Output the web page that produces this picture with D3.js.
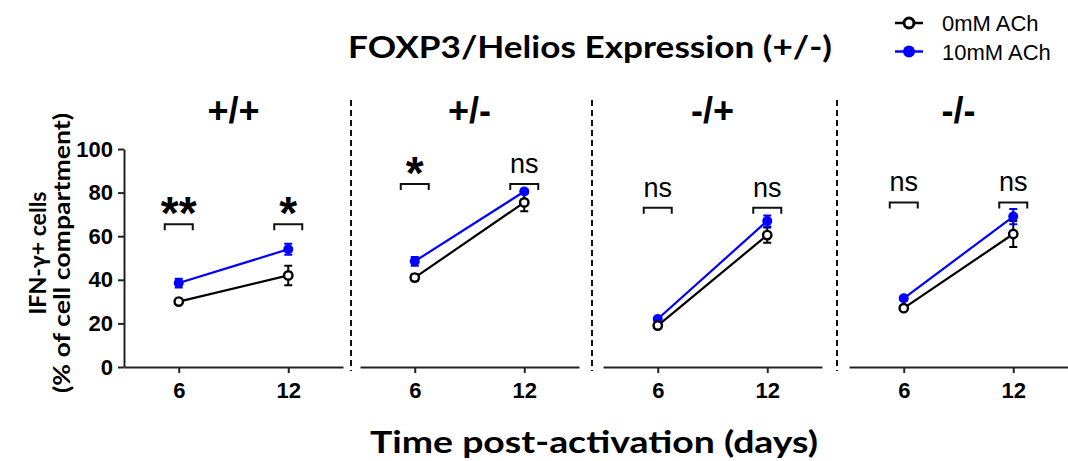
<!DOCTYPE html>
<html><head><meta charset="utf-8">
<script src="https://cdn.jsdelivr.net/npm/d3@7"></script>
<style>body{margin:0;background:#fff}</style>
</head><body><div id="graph"></div>
<script>
// values (% IFN-g+ cells)
var groups = ["+/+", "+/-", "-/+", "-/-"];
var days = [6, 12];
var ctrlMean = [[30, 42], [41, 75.5], [19, 60.5], [27, 61]];
var ctrlErr  = [[1, 4.5], [1.5, 4], [1, 3.5], [1, 6]];
var achMean  = [[38.5, 54], [48.5, 80.5], [22, 67], [31.5, 69]];
var achErr   = [[2, 2.5], [2, 1], [1, 2.5], [1, 3.5]];
var sigLabels = [["**", "*"], ["*", "ns"], ["ns", "ns"], ["ns", "ns"]];
var sigLevel = [65.5, 84, 73, 75.5];
var yTicks = [0, 20, 40, 60, 80, 100];
var seriesNames = ["0mM ACh", "10mM ACh"];

var width = 1068, height = 461;
var panelLeft = [124, 360, 603, 849], panelW = 219;
var dividers = [351, 592, 837];
var blue = "#0000ff", ink = "#111";
var sans = "Liberation Sans, Arial, sans-serif";
var calib = "Lato, 'Open Sans', sans-serif";

function font(sel, fam, size, weight) {
    return sel.attr("font-family", fam).attr("font-size", size).attr("font-weight", weight || "normal");
}

var svg = d3.select("#graph").append("svg")
    .attr("width", width).attr("height", height);

var y = d3.scaleLinear().domain([0, 100]).range([367, 149]);
var x = d3.scaleLinear().domain([3, 15]).range([0, panelW]);

// titles
font(svg.append("text"), calib, 30, "bold")
    .attr("x", 590).attr("y", 58)
    .attr("text-anchor", "middle")
    .attr("textLength", 484).attr("lengthAdjust", "spacingAndGlyphs")
    .text("FOXP3/Helios Expression (+/-)");

font(svg.append("text"), calib, 31, "bold")
    .attr("x", 594).attr("y", 453)
    .attr("text-anchor", "middle")
    .attr("textLength", 448).attr("lengthAdjust", "spacingAndGlyphs")
    .text("Time post-activation (days)");

font(svg.append("text"), calib, 23, "bold")
    .attr("transform", "translate(46,253) rotate(-90)")
    .attr("text-anchor", "middle")
    .attr("textLength", 123).attr("lengthAdjust", "spacingAndGlyphs")
    .text("IFN-\u03b3+ cells");
font(svg.append("text"), calib, 23, "bold")
    .attr("transform", "translate(70,253) rotate(-90)")
    .attr("text-anchor", "middle")
    .attr("textLength", 280).attr("lengthAdjust", "spacingAndGlyphs")
    .text("(% of cell compartment)");

// y axis (first panel only)
var yAxis = svg.append("g")
    .attr("transform", "translate(" + panelLeft[0] + ",0)")
    .call(d3.axisLeft(y).tickValues(yTicks).tickSize(6).tickSizeOuter(0).tickPadding(5));
font(yAxis, sans, 22, "bold");
yAxis.selectAll("path,line").attr("stroke", "#222").attr("stroke-width", 2);
yAxis.selectAll("text").attr("fill", "#000");

// dashed separators
svg.selectAll(".sep").data(dividers).enter().append("line")
    .attr("class", "sep")
    .attr("x1", function(d){ return d; }).attr("x2", function(d){ return d; })
    .attr("y1", 100).attr("y2", 371)
    .attr("stroke", ink).attr("stroke-width", 2)
    .attr("stroke-dasharray", "6,4");

groups.forEach(function(name, i) {
    var g = svg.append("g").attr("transform", "translate(" + panelLeft[i] + ",0)");

    var xAxis = g.append("g")
        .attr("transform", "translate(0," + y(0) + ")")
        .call(d3.axisBottom(x).tickValues(days).tickSize(6).tickSizeOuter(0).tickPadding(9));
    font(xAxis, sans, 22, "bold");
    xAxis.selectAll("path,line").attr("stroke", "#222").attr("stroke-width", 2);
    xAxis.selectAll("text").attr("fill", "#000");

    font(g.append("text"), sans, 36, "bold")
        .attr("x", x(9)).attr("y", 123)
        .attr("text-anchor", "middle")
        .text(name);

    var line = d3.line().x(function(d, k){ return x(days[k]); }).y(function(d){ return y(d); });

    function drawSeries(mean, err, color) {
        g.append("path").datum(mean)
            .attr("d", line).attr("fill", "none")
            .attr("stroke", color).attr("stroke-width", 2.2);
        mean.forEach(function(m, k) {
            var cx = x(days[k]);
            g.append("path")
                .attr("d", "M" + (cx - 4) + "," + y(m + err[k]) + "H" + (cx + 4) +
                    "M" + cx + "," + y(m + err[k]) + "V" + y(m - err[k]) +
                    "M" + (cx - 4) + "," + y(m - err[k]) + "H" + (cx + 4))
                .attr("stroke", color).attr("stroke-width", 2).attr("fill", "none");
        });
    }
    drawSeries(ctrlMean[i], ctrlErr[i], "#000");
    drawSeries(achMean[i], achErr[i], blue);

    g.selectAll(".ach").data(achMean[i]).enter().append("circle")
        .attr("cx", function(d, k){ return x(days[k]); })
        .attr("cy", function(d){ return y(d); })
        .attr("r", 5).attr("fill", blue);
    g.selectAll(".ctrl").data(ctrlMean[i]).enter().append("circle")
        .attr("cx", function(d, k){ return x(days[k]); })
        .attr("cy", function(d){ return y(d); })
        .attr("r", 4.2).attr("fill", "#fff")
        .attr("stroke", "#000").attr("stroke-width", 2.4);

    // significance brackets
    sigLabels[i].forEach(function(lab, k) {
        var cx = x(days[k]), yb = y(sigLevel[i]);
        g.append("path")
            .attr("d", "M" + (cx - 14) + "," + (yb + 6) + "V" + yb + "H" + (cx + 14) + "V" + (yb + 6))
            .attr("fill", "none").attr("stroke", ink).attr("stroke-width", 2);
        var t = g.append("text").attr("x", cx).attr("text-anchor", "middle").text(lab);
        if (lab === "ns") {
            font(t, sans, 27).attr("y", yb - 11);
        } else {
            font(t, sans, 46, "bold").attr("y", yb + 5);
        }
    });
});

// legend
var legend = svg.append("g").attr("transform", "translate(909,0)");
var legY = [23, 51.5];
seriesNames.forEach(function(s, k) {
    var c = k === 0 ? "#000" : blue;
    legend.append("line")
        .attr("x1", -14).attr("x2", 14).attr("y1", legY[k]).attr("y2", legY[k])
        .attr("stroke", c).attr("stroke-width", 2.5);
    legend.append("circle")
        .attr("cx", 0).attr("cy", legY[k])
        .attr("r", k === 0 ? 5 : 6)
        .attr("fill", k === 0 ? "#fff" : blue)
        .attr("stroke", c).attr("stroke-width", k === 0 ? 3 : 0);
    font(legend.append("text"), sans, 22)
        .attr("x", 33).attr("y", legY[k] + 8)
        .text(s);
});
</script>
</body></html>
